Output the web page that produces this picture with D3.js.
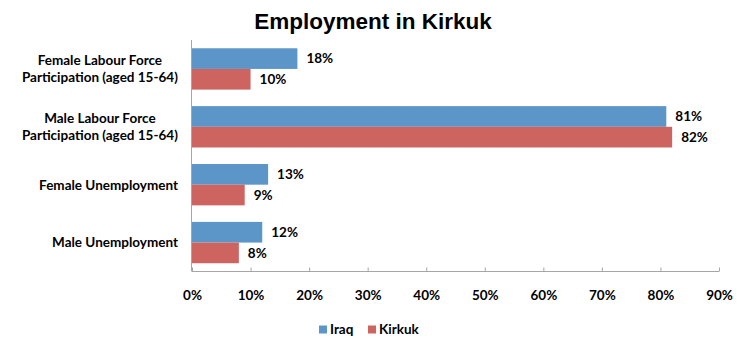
<!DOCTYPE html>
<html>
<head>
<meta charset="utf-8">
<script src="https://cdn.jsdelivr.net/npm/d3@7"></script>
<style>
body { margin: 0; background: #fff; }
text { font-family: Lato, "Open Sans", sans-serif; font-weight: bold; fill: #000; }
</style>
</head>
<body>
<svg></svg>
<script>
var categories = [
	['Female Labour Force', 'Participation (aged 15-64)'],
	['Male Labour Force', 'Participation (aged 15-64)'],
	['Female Unemployment'],
	['Male Unemployment']
]
var seriesNames = ['Iraq', 'Kirkuk']
var iraq = [18, 81, 13, 12]
var kirkuk = [10, 82, 9, 8]
var ticks = [0, 10, 20, 30, 40, 50, 60, 70, 80, 90]
var colors = ['#5c96c9', '#ce645f']

var width = 740
var height = 338
var fontSize = '13.5px'

var svg = d3.select('svg').attr('width', width).attr('height', height)

var rows = categories.map(function(c, i) {
	return {label: c, values: [iraq[i], kirkuk[i]]}
})

var x = d3.scaleLinear().domain([0, 90]).range([192, 719])
var y = d3.scaleBand().domain(d3.range(categories.length)).range([40, 271.5])
var inner = d3.scaleBand().domain(d3.range(seriesNames.length)).range([0, y.bandwidth()]).paddingOuter(0.4)

// title
svg.append('text')
	.attr('x', 373).attr('y', 29)
	.attr('text-anchor', 'middle')
	.style('font-family', 'Liberation Sans, Arial, sans-serif')
	.style('font-size', '22.5px')
	.attr('fill', '#1a1a1a')
	.text('Employment in Kirkuk')

// bars
var groups = svg.append('g').selectAll('g')
	.data(rows).enter().append('g')
	.attr('transform', function(d, i) {return 'translate(0,' + y(i) + ')'})

groups.selectAll('rect')
	.data(function(d) {return d.values})
	.enter().append('rect')
	.attr('x', x(0))
	.attr('y', function(d, j) {return inner(j)})
	.attr('width', function(d) {return x(d) - x(0)})
	.attr('height', inner.bandwidth())
	.attr('fill', function(d, j) {return colors[j]})

groups.selectAll('text.val')
	.data(function(d) {return d.values})
	.enter().append('text')
	.attr('class', 'val')
	.attr('x', function(d) {return x(d) + 9})
	.attr('y', function(d, j) {return inner(j) + inner.bandwidth() / 2})
	.attr('dy', '0.36em')
	.style('font-size', fontSize)
	.text(function(d) {return d + '%'})

// x axis
var xAxis = d3.axisBottom(x).tickValues(ticks).tickSize(-4).tickFormat(function(d) {return d + '%'})
var gx = svg.append('g').attr('transform', 'translate(0,271.5)').call(xAxis)
gx.select('.domain').attr('stroke', '#a6a6a6').attr('d', 'M' + x(0) + ',0H' + x(90))
gx.selectAll('.tick line').attr('stroke', '#a6a6a6')
gx.selectAll('.tick text').attr('y', 19).style('font-size', fontSize).attr('fill', '#000')

// y axis line
svg.append('line')
	.attr('x1', x(0) - 0.5).attr('x2', x(0) - 0.5)
	.attr('y1', 40).attr('y2', 271.5)
	.attr('stroke', '#a6a6a6')

// category labels: block right-aligned, lines centred inside it
var labelRight = 178
rows.forEach(function(r, i) {
	var cy = y(i) + y.bandwidth() / 2
	var n = r.label.length
	var t = svg.append('text').style('font-size', fontSize).attr('text-anchor', 'middle')
	r.label.forEach(function(line, k) {
		t.append('tspan').attr('x', 0).attr('y', cy + (k - (n - 1) / 2) * 17).attr('dy', '0.36em').text(line)
	})
	var w = t.node().getBBox().width
	t.selectAll('tspan').attr('x', labelRight - w / 2)
})

// legend
var legend = svg.append('g').attr('transform', 'translate(319,329.5)')
var item = legend.selectAll('g').data(seriesNames).enter().append('g')
	.attr('transform', function(d, i) {return 'translate(' + (i * 49) + ',0)'})
item.append('rect').attr('x', 0).attr('y', -4).attr('width', 8).attr('height', 8)
	.attr('fill', function(d, i) {return colors[i]})
item.append('text').attr('x', 11).attr('dy', '0.36em').style('font-size', fontSize).text(function(d) {return d})
</script>
</body>
</html>
